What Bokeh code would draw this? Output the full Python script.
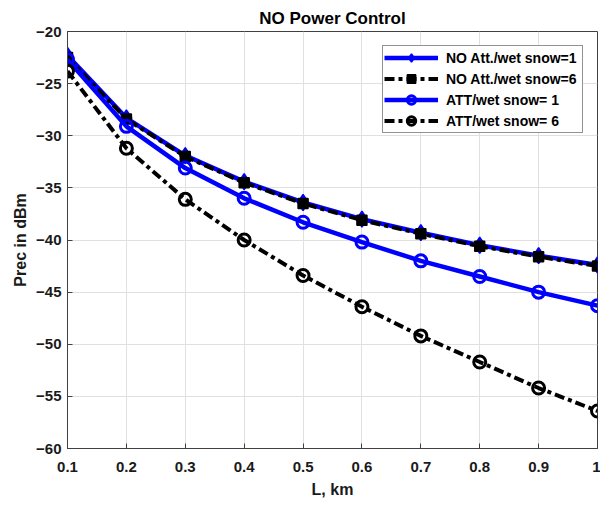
from bokeh.plotting import figure
from bokeh.models import FixedTicker, Range1d
from bokeh.embed import file_html
from bokeh.resources import INLINE

# ---- data ----
L_km = [0.1, 0.2, 0.3, 0.4, 0.5, 0.6, 0.7, 0.8, 0.9, 1.0]
no_att_ws1 = [-22.3, -28.3, -31.9, -34.4, -36.4, -38.0, -39.3, -40.5, -41.5, -42.4]
no_att_ws6 = [-22.5, -28.4, -32.0, -34.5, -36.5, -38.1, -39.4, -40.6, -41.6, -42.5]
att_ws1 = [-22.7, -29.1, -33.1, -36.0, -38.3, -40.2, -42.0, -43.5, -45.0, -46.3]
att_ws6 = [-23.8, -31.2, -36.1, -40.0, -43.4, -46.4, -49.2, -51.7, -54.2, -56.4]

x_ticks = [0.1, 0.2, 0.3, 0.4, 0.5, 0.6, 0.7, 0.8, 0.9, 1.0]
x_tick_labels = ["0.1", "0.2", "0.3", "0.4", "0.5", "0.6", "0.7", "0.8", "0.9", "1"]
y_ticks = [-60, -55, -50, -45, -40, -35, -30, -25, -20]

labels = ["NO Att./wet snow=1", "NO Att./wet snow=6", "ATT/wet snow= 1", "ATT/wet snow= 6"]

FONT = "Liberation Sans"
AXC = "#404040"

p = figure(
    output_backend="svg", toolbar_location=None,
    width=600, height=506,
    min_border_left=67, min_border_right=3, min_border_top=31, min_border_bottom=58,
    x_range=Range1d(0.1, 1.0), y_range=Range1d(-60, -20),
    background_fill_color="white", border_fill_color="white",
)

p.title.text = "NO Power Control"
p.title.text_font = FONT
p.title.text_font_size = "17px"
p.title.text_font_style = "bold"
p.title.align = "center"
p.title.vertical_align = "top"
p.title.text_color = "#000000"
p.title.standoff = 4

p.outline_line_color = AXC
p.outline_line_width = 1

for ax, ticks in ((p.xaxis[0], x_ticks), (p.yaxis[0], y_ticks)):
    ax.ticker = FixedTicker(ticks=ticks)
    ax.major_tick_in = 5
    ax.major_tick_out = 0
    ax.minor_tick_line_color = None
    ax.axis_line_color = AXC
    ax.major_tick_line_color = AXC
    ax.major_label_text_font = FONT
    ax.major_label_text_font_size = "15px"
    ax.major_label_text_font_style = "bold"
    ax.major_label_text_color = "#1a1a1a"
    ax.axis_label_text_font = FONT
    ax.axis_label_text_font_size = "16px"
    ax.axis_label_text_font_style = "bold"
    ax.axis_label_text_color = "#1a1a1a"

p.xaxis[0].major_label_overrides = {t: s for t, s in zip(x_ticks, x_tick_labels)}
p.xaxis[0].axis_label = "L, km"
p.xaxis[0].major_label_standoff = 13
p.xaxis[0].axis_label_standoff = 6
p.yaxis[0].axis_label = "Prec in dBm"
p.yaxis[0].major_label_standoff = 6
p.yaxis[0].axis_label_standoff = 4

p.xgrid.grid_line_color = "#e0e0e0"
p.ygrid.grid_line_color = "#e0e0e0"
p.xgrid.ticker = FixedTicker(ticks=x_ticks)
p.ygrid.ticker = FixedTicker(ticks=y_ticks)

BLUE = "#0000ff"
BLACK = "#000000"
DASH = "10 4 4 4"

# NO Att./wet snow=1
p.line(L_km, no_att_ws1, line_color=BLUE, line_width=4.5, legend_label=labels[0])
p.scatter(L_km, no_att_ws1, marker="diamond", size=16, fill_color=BLUE,
          line_color=BLUE, line_width=1.5, legend_label=labels[0])
# NO Att./wet snow=6
p.line(L_km, no_att_ws6, line_color=BLACK, line_width=4, line_dash=DASH,
       legend_label=labels[1])
p.scatter(L_km, no_att_ws6, marker="square", size=10, fill_color=BLACK,
          line_color=BLACK, line_width=1.5, legend_label=labels[1])
# ATT/wet snow= 1
p.line(L_km, att_ws1, line_color=BLUE, line_width=4.5, legend_label=labels[2])
p.scatter(L_km, att_ws1, marker="circle", size=12, fill_color=None,
          line_color=BLUE, line_width=3, legend_label=labels[2])
# ATT/wet snow= 6
p.line(L_km, att_ws6, line_color=BLACK, line_width=4, line_dash=DASH,
       legend_label=labels[3])
p.scatter(L_km, att_ws6, marker="circle", size=12, fill_color=None,
          line_color=BLACK, line_width=3, legend_label=labels[3])

lg = p.legend[0]
lg.location = "top_right"
lg.margin = 14
lg.padding = 1
lg.spacing = 0
lg.label_height = 21
lg.glyph_height = 21
lg.glyph_width = 54
lg.label_width = 135
lg.label_standoff = 8
lg.label_text_font = FONT
lg.label_text_font_size = "14px"
lg.label_text_font_style = "bold"
lg.label_text_color = "#000000"
lg.border_line_color = "#262626"
lg.border_line_width = 1
lg.background_fill_color = "white"
lg.background_fill_alpha = 1.0

open("out.html", "w").write(file_html(p, INLINE))
